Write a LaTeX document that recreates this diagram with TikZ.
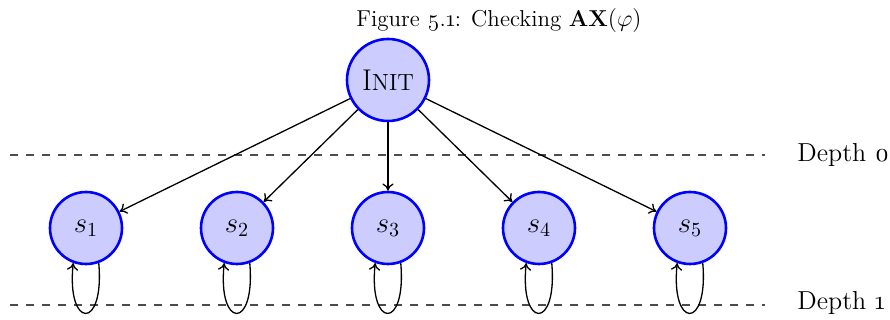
\documentclass[tikz,border=0pt]{standalone}
\usepackage{fontspec}
\setmainfont{Latin Modern Roman}[Numbers=OldStyle]
\usetikzlibrary{arrows.meta}
% small capitals drawn from scaled upper-case letters
\newcommand{\fakesc}[2]{#1{\fontsize{0.78em}{1em}\selectfont #2}}
\begin{document}
\begin{tikzpicture}[x=0.5pt,y=-0.5pt,
  state/.style={circle,draw=blue,line width=1.3pt,fill=blue!20,inner sep=0pt,minimum size=36pt},
  initstate/.style={state,minimum size=41pt},
  edge/.style={-{To[length=3.6pt,width=5.6pt]},line width=0.65pt},
  level/.style={dash pattern=on 4pt off 4pt,line width=0.55pt,black!70},
  depthlabel/.style={anchor=west,font=\fontsize{13}{15}\selectfont,inner sep=0pt}]
  \useasboundingbox (0,0) rectangle (890,320);

  % caption
  \node[font=\fontsize{11.5}{13}\selectfont] (title) at (499,21) {Figure 5.1: Checking $\mathbf{AX}(\varphi)$};

  % depth separators
  \coordinate (d0a) at (10,155);
  \coordinate (d0b) at (765,155);
  \coordinate (d1a) at (10,305);
  \coordinate (d1b) at (765,305);
  \draw[level] (d0a) -- (d0b);
  \draw[level] (d1a) -- (d1b);
  \node[depthlabel] (lab0) at (797,155) {Depth 0};
  \node[depthlabel] (lab1) at (797,303) {Depth 1};

  % states
  \node[initstate,font=\fontsize{15}{18}\selectfont] (init) at (388,80) {\fakesc{I}{NIT}};
  \foreach \i/\x in {1/86,2/237,3/388,4/539,5/690} {
    \node[state,font=\Large] (s\i) at (\x,228) {$s_{\i}$};
    \draw[edge] (init) -- (s\i);
    \draw[edge] (s\i.-70) .. controls +(6,68) and +(-7,66) .. (s\i.-110);
  }
\end{tikzpicture}
\end{document}
